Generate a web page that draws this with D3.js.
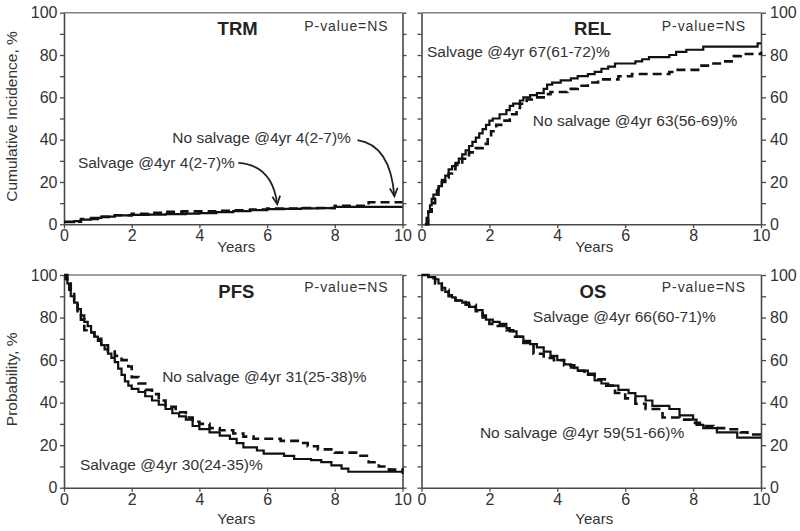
<!DOCTYPE html>
<html><head><meta charset="utf-8">
<script src="https://cdn.jsdelivr.net/npm/d3@7"></script>
<style>
body{margin:0;background:#fff;}
svg{display:block;font-family:"Liberation Sans",Arial,sans-serif;}
</style></head>
<body><svg id="c" width="800" height="531"></svg>
<script>
// ---- data (time in years, value in %) ----
const xTicks = [0,2,4,6,8,10];
const yTicks = [0,10,20,30,40,50,60,70,80,90,100];
const panelTitles = ["TRM","REL","PFS","OS"];
const yLabels = ["Cumulative Incidence, %","Probability, %"];

const trmSalvage = [[0,1],[0.3,1.5],[0.5,2.2],[0.8,3],[1.1,3.6],[1.5,4.2],[2,4.5],[2.5,4.6],[3,4.8],[3.6,5],[4,5.3],[4.5,5.8],[5,6.2],[5.5,6.7],[6,7.2],[6.5,7.3],[7,7.5],[7.5,7.6],[8,8.2],[10,8.2]];
const trmNoSalvage = [[0,1.2],[0.5,2.5],[1,3.5],[1.5,4.3],[2,5],[2.5,5.4],[3,5.9],[3.5,6.1],[4.5,6.4],[5,6.6],[5.5,7],[6,7.4],[7,7.7],[8,8.8],[9,10.4],[10,10.4]];

const relSalvage = [[0.1,0],[0.15,3],[0.2,6],[0.25,9],[0.3,12],[0.35,14],[0.45,16],[0.5,18],[0.6,21],[0.7,23],[0.8,26],[0.9,27.5],[1,29],[1.1,31],[1.2,33],[1.3,35],[1.4,37],[1.5,39],[1.6,41],[1.7,43],[1.8,45],[1.9,47],[2,49],[2.1,50],[2.3,52],[2.5,54],[2.6,56],[2.7,57],[2.9,58.5],[3,60],[3.2,61],[3.4,62],[3.6,64],[3.7,66],[3.85,67],[4.1,68],[4.4,69],[4.6,70],[4.9,71],[5.1,72],[5.3,73.5],[5.5,74.5],[5.7,76],[6.3,77],[6.5,78],[6.7,79],[7.3,80],[7.5,81.5],[7.8,82.5],[8.3,84],[9.9,85.5],[10,85.5]];
const relNoSalvage = [[0.1,0],[0.2,6],[0.3,10],[0.4,14],[0.5,17],[0.6,20],[0.7,22],[0.8,24],[0.9,26],[1,28],[1.2,31],[1.4,34],[1.6,36],[1.8,38],[1.95,41],[2.05,44],[2.2,47],[2.4,49],[2.6,52],[2.8,55],[2.9,57],[3.1,59],[3.3,60],[3.6,61.5],[3.8,62.5],[4.3,64],[4.6,65.5],[4.9,67],[5.2,68.5],[5.8,70],[6.2,71],[7.3,72],[7.5,73],[8.2,75],[8.6,76],[8.9,77],[9.2,79.5],[9.4,80.5],[10,81.5]];

const pfsSalvage = [[0,100],[0.05,98],[0.1,96],[0.15,93],[0.2,90],[0.3,87],[0.4,84],[0.5,81],[0.6,78],[0.7,76],[0.8,73],[0.9,71],[1,69],[1.1,67],[1.2,65],[1.3,63],[1.4,61],[1.5,59],[1.6,56],[1.7,53],[1.8,50],[1.9,48],[2,46.5],[2.2,45],[2.4,43],[2.6,41],[2.8,39],[3,37],[3.2,35],[3.4,33.5],[3.6,32],[3.8,29],[4,27.5],[4.3,26],[4.6,24.5],[4.9,23],[5.1,21],[5.3,19],[5.7,17.5],[5.9,16],[6.5,15],[6.8,13.5],[7.3,13],[7.6,12],[7.9,10.5],[8.2,9],[8.4,7.5],[10,6.5]];
const pfsNoSalvage = [[0,100],[0.1,96],[0.2,91],[0.3,87],[0.4,83],[0.5,79],[0.6,74],[0.75,73],[0.9,70],[1.1,67],[1.3,64],[1.5,62],[1.7,60],[1.9,57],[2,52],[2.2,49],[2.4,46],[2.6,44],[2.8,41],[3,38],[3.3,35.5],[3.6,33],[3.8,31],[4,30],[4.3,28],[4.6,27],[5,25.5],[5.3,24],[5.6,23],[6.4,22],[7,21],[7.2,19.5],[7.5,18],[8,16.5],[8.7,15],[9,12],[9.3,10],[9.6,8.5],[10,8]];

const osSalvage = [[0,100],[0.2,99],[0.4,98],[0.5,96],[0.6,94],[0.7,92],[0.8,90.5],[0.9,89.5],[1,88],[1.2,87],[1.4,85],[1.6,83.5],[1.8,81],[1.9,79],[2.1,78],[2.3,77],[2.5,75],[2.6,73.5],[2.8,71],[3,69],[3.2,67.5],[3.4,66],[3.6,64],[3.8,62],[4,60],[4.2,58],[4.4,56.5],[4.6,55],[4.9,53],[5.1,50.5],[5.3,49],[5.5,48],[5.8,46],[6.1,44.5],[6.3,43],[6.6,41],[6.8,38.5],[7.3,37],[7.6,34],[8,32],[8.1,29.5],[8.3,28],[8.7,26],[9.3,23.5],[10,23.5]];
const osNoSalvage = [[0,100],[0.2,98.5],[0.4,96],[0.6,93],[0.8,90],[1,88],[1.3,86],[1.6,83],[1.8,80],[2,77],[2.2,76],[2.5,74],[2.7,71],[3,68],[3.3,63],[3.6,61],[3.9,60],[4.2,57.5],[4.5,55],[4.8,53.5],[5.1,51],[5.4,48],[5.7,44.5],[6,42],[6.3,39.5],[6.6,37],[7,35],[7.1,33],[7.6,32],[8,30.5],[8.2,29],[8.6,28],[9,27.5],[9.4,26],[9.6,25],[10,25]];

const notes = [
  ["Salvage @4yr 4(2-7)%","No salvage @4yr 4(2-7)%"],
  ["Salvage @4yr 67(61-72)%","No salvage @4yr 63(56-69)%"],
  ["Salvage @4yr 30(24-35)%","No salvage @4yr 31(25-38)%"],
  ["Salvage @4yr 66(60-71)%","No salvage @4yr 59(51-66)%"]
];

// ---- layout ----
const svg = d3.select("#c");
const textCol = "#333";
const panels = [
  {title:panelTitles[0], solid:trmSalvage, dashed:trmNoSalvage, x0:64, x1:402.5, yT:12.7, yB:224.3, side:"left", ylab:yLabels[0], yearsY:252,
   sal:[0.41,26.6,"start"], nos:[3.2,38.4,"start"], tt:[5.13,89.5], pv:[7.1,91.3],
   arrows:[[[5.15,29],[6.15,28],[6.3,9.5]],[[8.67,39.8],[9.64,37.5],[9.76,13.3]]]},
  {title:panelTitles[1], solid:relSalvage, dashed:relNoSalvage, x0:421.5, x1:761, yT:12.7, yB:224.3, side:"right", yearsY:252,
   sal:[0.16,79,"start"], nos:[3.28,46.4,"start"], tt:[5.04,89.5], pv:[7.08,91.3], arrows:[]},
  {title:panelTitles[2], solid:pfsSalvage, dashed:pfsNoSalvage, x0:64, x1:402.5, yT:275, yB:487.7, side:"left", ylab:yLabels[1], yearsY:524,
   sal:[0.47,8.3,"start"], nos:[2.9,49.7,"start"], tt:[5.09,89.2], pv:[7.1,92], arrows:[]},
  {title:panelTitles[3], solid:osSalvage, dashed:osNoSalvage, x0:421.5, x1:761, yT:275, yB:487.7, side:"right", yearsY:524,
   sal:[3.28,77.9,"start"], nos:[1.72,23.4,"start"], tt:[5.05,89.2], pv:[7.08,92], arrows:[]}
];

panels.forEach((p,i)=>{
  const x = d3.scaleLinear().domain([0,10]).range([p.x0,p.x1]);
  const y = d3.scaleLinear().domain([0,100]).range([p.yB,p.yT]);
  const g = svg.append("g");

  // top frame
  g.append("line").attr("x1",p.x0).attr("x2",p.x1).attr("y1",p.yT).attr("y2",p.yT)
    .attr("stroke","#808080").attr("stroke-width",1.5);

  // x axis
  const xa = g.append("g").attr("transform",`translate(0,${p.yB})`)
    .call(d3.axisBottom(x).tickValues(xTicks).tickSize(4).tickPadding(1.5).tickSizeOuter(0));
  // y axes: labelled side and mirrored side
  const labelled = p.side==="left" ? d3.axisLeft(y).tickSize(4).tickPadding(2.5) : d3.axisRight(y).tickSize(5).tickPadding(4);
  const mirror = p.side==="left" ? d3.axisRight(y).tickSize(4) : d3.axisLeft(y).tickSize(4);
  const ya = g.append("g").attr("transform",`translate(${p.side==="left"?p.x0:p.x1},0)`)
    .call(labelled.tickValues(yTicks).tickSizeOuter(0).tickFormat(d=> d%20===0 ? d : ""));
  const ym = g.append("g").attr("transform",`translate(${p.side==="left"?p.x1:p.x0},0)`)
    .call(mirror.tickValues(yTicks).tickSizeOuter(0).tickFormat(""));
  [xa,ya,ym].forEach(a=>{
    a.select(".domain").attr("stroke","#4a4a4a").attr("stroke-width",1.6);
    a.selectAll(".tick line").attr("stroke","#4a4a4a").attr("stroke-width",1.3);
    a.selectAll("text").attr("fill",textCol).style("font-size","16px").style("font-family","'Liberation Sans',Arial,sans-serif");
  });

  // curves
  const line = d3.line().x(d=>x(d[0])).y(d=>y(d[1])).curve(d3.curveStepAfter);
  g.append("path").datum(p.dashed).attr("d",line).attr("fill","none")
    .attr("stroke","#111").attr("stroke-width",2.6).attr("stroke-dasharray","9,5");
  g.append("path").datum(p.solid).attr("d",line).attr("fill","none")
    .attr("stroke","#111").attr("stroke-width",2.2);

  // titles
  g.append("text").attr("x",x(p.tt[0])).attr("y",y(p.tt[1])).attr("text-anchor","middle")
    .attr("fill","#222").style("font-weight","bold").style("font-size","18.5px").text(p.title);
  g.append("text").attr("x",x(p.pv[0])).attr("y",y(p.pv[1]))
    .attr("fill",textCol).style("font-size","14px").style("letter-spacing","0.9px").text("P-value=NS");
  g.append("text").attr("x",x(p.sal[0])).attr("y",y(p.sal[1])).attr("text-anchor",p.sal[2])
    .attr("fill",textCol).style("font-size","15.5px").text(notes[i][0]);
  g.append("text").attr("x",x(p.nos[0])).attr("y",y(p.nos[1])).attr("text-anchor",p.nos[2])
    .attr("fill",textCol).style("font-size","15.5px").text(notes[i][1]);

  // arrows
  p.arrows.forEach(a=>{
    const [s,c,e] = a.map(d=>[x(d[0]),y(d[1])]);
    g.append("path").attr("d",`M${s[0]},${s[1]} Q${c[0]},${c[1]} ${e[0]},${e[1]}`)
      .attr("fill","none").attr("stroke","#222").attr("stroke-width",1.8);
    const ang = Math.atan2(e[1]-c[1], e[0]-c[0]);
    const L=9, w=0.45;
    const p1=[e[0]-L*Math.cos(ang-w), e[1]-L*Math.sin(ang-w)];
    const p2=[e[0]-L*Math.cos(ang+w), e[1]-L*Math.sin(ang+w)];
    g.append("path").attr("d",`M${p1[0]},${p1[1]} L${e[0]},${e[1]} L${p2[0]},${p2[1]}`)
      .attr("fill","none").attr("stroke","#222").attr("stroke-width",1.8);
  });

  // axis titles
  g.append("text").attr("x",(p.x0+p.x1)/2+3).attr("y",p.yearsY).attr("text-anchor","middle")
    .attr("fill",textCol).style("font-size","15px").text("Years");
  if (p.ylab){
    g.append("text").attr("transform",`translate(17,${(p.yT+p.yB)/2-2}) rotate(-90)`)
      .attr("text-anchor","middle").attr("fill",textCol).style("font-size","15.5px").text(p.ylab);
  }
});
</script></body></html>
